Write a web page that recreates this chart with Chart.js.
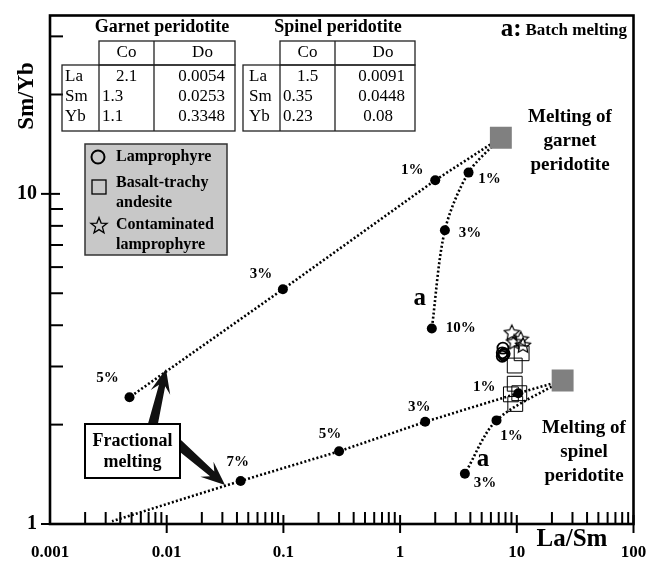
<!DOCTYPE html>
<html>
<head>
<meta charset="utf-8">
<script src="https://cdn.jsdelivr.net/npm/chart.js@4.4.0/dist/chart.umd.min.js"></script>
<style>
  html, body { margin: 0; padding: 0; background: #fff; }
</style>
</head>
<body>
<canvas id="meltChart" width="649" height="565"></canvas>
<script>
// axis ticks
const xTickValues = [0.001, 0.01, 0.1, 1, 10, 100];
const xTickLabels = ['0.001', '0.01', '0.1', '1', '10', '100'];
const yTickValues = [1, 10];
const yTickLabels = ['1', '10'];

// melting curves (first point = source)
const garnetFracX = [7.3, 2.0, 0.099, 0.0048];
const garnetFracY = [14.8, 11.0, 5.14, 2.42];
const garnetFracLabels = ['', '1%', '3%', '5%'];

const garnetBatchX = [7.3, 3.86, 2.42, 1.87];
const garnetBatchY = [14.8, 11.6, 7.76, 3.91];
const garnetBatchLabels = ['', '1%', '3%', '10%'];

const spinelFracX = [24.7, 10.3, 1.64, 0.30, 0.043, 0.0034];
const spinelFracY = [2.72, 2.49, 2.04, 1.66, 1.35, 1.02];
const spinelFracLabels = ['', '1%', '3%', '5%', '7%', ''];

const spinelBatchX = [24.7, 6.7, 3.59];
const spinelBatchY = [2.72, 2.06, 1.42];
const spinelBatchLabels = ['', '1%', '3%'];

// samples
const lamprophyreX = [7.6, 7.5, 7.7, 7.5, 7.8];
const lamprophyreY = [3.41, 3.30, 3.25, 3.22, 3.28];
const basaltX = [11.0, 9.6, 9.6, 8.9, 9.7, 10.5];
const basaltY = [3.29, 3.02, 2.66, 2.47, 2.31, 2.49];
const contamX = [9.06, 10.8, 11.3, 9.5];
const contamY = [3.81, 3.64, 3.49, 3.57];

// partition table
const tableElements = ['La', 'Sm', 'Yb'];
const garnetCo = ['2.1', '1.3', '1.1'];
const garnetDo = ['0.0054', '0.0253', '0.3348'];
const spinelCo = ['1.5', '0.35', '0.23'];
const spinelDo = ['0.0091', '0.0448', '0.08'];

const SERIF = '"Liberation Serif", "DejaVu Serif", serif';

function pts(xs, ys) {
    return xs.map(function(x, i) { return { x: x, y: ys[i] }; });
}

// open star used as point style
function makeStar(size, lw) {
    const c = document.createElement('canvas');
    c.width = size; c.height = size;
    const g = c.getContext('2d');
    drawStar(g, size / 2, size / 2 + 0.8, size / 2 - 1, size / 4.6, lw);
    return c;
}
function drawStar(g, cx, cy, ro, ri, lw) {
    g.beginPath();
    for (let i = 0; i < 10; i++) {
        const r = i % 2 === 0 ? ro : ri;
        const a = -Math.PI / 2 + i * Math.PI / 5;
        const px = cx + r * Math.cos(a), py = cy + r * Math.sin(a);
        if (i === 0) g.moveTo(px, py); else g.lineTo(px, py);
    }
    g.closePath();
    g.lineWidth = lw;
    g.strokeStyle = '#000';
    g.stroke();
}
const starImg = makeStar(18, 1.2);

function lineSet(xs, ys, labels, offsets, tension) {
    return {
        data: pts(xs, ys),
        showLine: true,
        borderColor: '#000',
        borderWidth: 2.6,
        borderDash: [2, 2.2],
        tension: tension,
        pointRadius: labels.map(function(l) { return l ? 5 : 0; }),
        pointBackgroundColor: '#000',
        pointBorderWidth: 0,
        pctLabels: labels,
        labelOffsets: offsets
    };
}

function txt(ctx, s, x, y, font, align) {
    ctx.font = font;
    ctx.textAlign = align || 'center';
    ctx.textBaseline = 'middle';
    ctx.fillStyle = '#000';
    ctx.fillText(s, x, y);
}

function drawArrow(ctx, x0, y0, x1, y1) {
    const dx = x1 - x0, dy = y1 - y0;
    const len = Math.sqrt(dx * dx + dy * dy);
    const ux = dx / len, uy = dy / len, nx = -uy, ny = ux;
    const headL = 24, headW = 10, notch = 7, shaftW0 = 5, shaftW1 = 3.2;
    const p = function(a, b) { return [x0 + ux * a + nx * b, y0 + uy * a + ny * b]; };
    const poly = [
        p(0, -shaftW0), p(len - headL + notch, -shaftW1), p(len - headL, -headW),
        p(len, 0),
        p(len - headL, headW), p(len - headL + notch, shaftW1), p(0, shaftW0)
    ];
    ctx.beginPath();
    poly.forEach(function(q, i) { if (i === 0) ctx.moveTo(q[0], q[1]); else ctx.lineTo(q[0], q[1]); });
    ctx.closePath();
    ctx.fillStyle = '#111';
    ctx.fill();
}

const decor = {
    id: 'decor',
    beforeDatasetsDraw: function(chart) {
        const ctx = chart.ctx, a = chart.chartArea;
        const xs = chart.scales.x, ys = chart.scales.y;
        ctx.save();
        ctx.strokeStyle = '#000';
        // frame
        ctx.lineWidth = 2.6;
        ctx.strokeRect(a.left, a.top, a.right - a.left, a.bottom - a.top);
        // y ticks
        ctx.lineWidth = 2;
        [1, 10].forEach(function(d) {
            for (let k = 2; k <= 9; k++) {
                const v = k * d;
                if (v > ys.max) break;
                const py = ys.getPixelForValue(v);
                ctx.beginPath(); ctx.moveTo(a.left, py); ctx.lineTo(a.left + 13, py); ctx.stroke();
            }
        });
        yTickValues.forEach(function(v, i) {
            const py = ys.getPixelForValue(v);
            ctx.beginPath(); ctx.moveTo(a.left - 9, py); ctx.lineTo(a.left + 10, py); ctx.stroke();
            txt(ctx, yTickLabels[i], a.left - 13, py, 'bold 20px ' + SERIF, 'right');
        });
        // x ticks
        [0.001, 0.01, 0.1, 1, 10].forEach(function(d) {
            for (let k = 2; k <= 9; k++) {
                const px = xs.getPixelForValue(k * d);
                ctx.beginPath(); ctx.moveTo(px, a.bottom); ctx.lineTo(px, a.bottom - 12); ctx.stroke();
            }
        });
        xTickValues.forEach(function(v, i) {
            const px = xs.getPixelForValue(v);
            if (i > 0) {
                ctx.beginPath(); ctx.moveTo(px, a.bottom - 9); ctx.lineTo(px, a.bottom + 9); ctx.stroke();
            }
            txt(ctx, xTickLabels[i], px, a.bottom + 29, 'bold 17px ' + SERIF, 'center');
        });
        ctx.restore();
    },
    afterDatasetsDraw: function(chart) {
        const ctx = chart.ctx;
        ctx.save();
        // percent labels
        chart.data.datasets.forEach(function(ds, i) {
            if (!ds.pctLabels) return;
            chart.getDatasetMeta(i).data.forEach(function(pt, j) {
                const l = ds.pctLabels[j];
                if (!l) return;
                const o = ds.labelOffsets[j];
                txt(ctx, l, pt.x + o[0], pt.y + o[1], 'bold 15px ' + SERIF, 'center');
            });
        });
        // "a" labels next to batch curves
        const gb = chart.getDatasetMeta(4).data[3];
        txt(ctx, 'a', gb.x - 12, gb.y - 30, 'bold 25px ' + SERIF, 'center');
        const sb = chart.getDatasetMeta(5).data[2];
        txt(ctx, 'a', sb.x + 18, sb.y - 14, 'bold 25px ' + SERIF, 'center');

        // axis titles
        txt(ctx, 'La/Sm', 572, 540, 'bold 25px ' + SERIF, 'center');
        ctx.save();
        ctx.translate(27, 96);
        ctx.rotate(-Math.PI / 2);
        txt(ctx, 'Sm/Yb', 0, 0, 'bold 23px ' + SERIF, 'center');
        ctx.restore();

        // annotations
        const f18 = 'bold 19px ' + SERIF;
        txt(ctx, 'Melting of', 570, 117, f18);
        txt(ctx, 'garnet', 570, 141, f18);
        txt(ctx, 'peridotite', 570, 165, f18);
        txt(ctx, 'Melting of', 584, 428, f18);
        txt(ctx, 'spinel', 584, 452, f18);
        txt(ctx, 'peridotite', 584, 476, f18);

        ctx.font = 'bold 17px ' + SERIF;
        const bw2 = ctx.measureText('Batch melting').width;
        txt(ctx, 'Batch melting', 627, 31, 'bold 17px ' + SERIF, 'right');
        txt(ctx, 'a:', 627 - bw2 - 4, 30, 'bold 25px ' + SERIF, 'right');

        // tables
        ctx.strokeStyle = '#222';
        ctx.lineWidth = 1.3;
        [[99, 62, 154, 235, garnetCo, garnetDo, 'Garnet peridotite', 162],
         [280, 243, 335, 415, spinelCo, spinelDo, 'Spinel peridotite', 338]].forEach(function(t, ti) {
            const c1 = t[0], l = t[1], c2 = t[2], r = t[3];
            ctx.strokeRect(c1, 41, r - c1, 24);
            ctx.strokeRect(l, 65, r - l, 66);
            ctx.beginPath();
            ctx.moveTo(c1, 65); ctx.lineTo(c1, 131);
            ctx.moveTo(c2, 41); ctx.lineTo(c2, 131);
            ctx.stroke();
            txt(ctx, t[6], t[7], 27, 'bold 18px ' + SERIF, 'center');
            const f = '17px ' + SERIF;
            txt(ctx, 'Co', (c1 + c2) / 2, 53, f, 'center');
            txt(ctx, 'Do', (c2 + r) / 2 + 8, 53, f, 'center');
            tableElements.forEach(function(e, k) {
                const y = 77 + k * 20;
                txt(ctx, e, l + (ti ? 6 : 3), y, f, 'left');
                if (k === 0) txt(ctx, t[4][k], (c1 + c2) / 2, y, f, 'center');
                else txt(ctx, t[4][k], c1 + 3, y, f, 'left');
                txt(ctx, t[5][k], r - (ti ? (k === 2 ? 22 : 10) : 10), y, f, 'right');
            });
        });

        // legend box
        ctx.fillStyle = '#c8c8c8';
        ctx.fillRect(85, 144, 142, 111);
        ctx.strokeStyle = '#333';
        ctx.lineWidth = 1.5;
        ctx.strokeRect(85, 144, 142, 111);
        ctx.strokeStyle = '#000';
        ctx.lineWidth = 2;
        ctx.beginPath(); ctx.arc(98, 157, 6.5, 0, Math.PI * 2); ctx.stroke();
        ctx.lineWidth = 1.3;
        ctx.strokeRect(92, 180, 14, 14);
        drawStar(ctx, 99, 226, 8.5, 3.6, 1.3);
        const fl = 'bold 16px ' + SERIF;
        txt(ctx, 'Lamprophyre', 116, 157, fl, 'left');
        txt(ctx, 'Basalt-trachy', 116, 183, fl, 'left');
        txt(ctx, 'andesite', 116, 203, fl, 'left');
        txt(ctx, 'Contaminated', 116, 225, fl, 'left');
        txt(ctx, 'lamprophyre', 116, 245, fl, 'left');

        // fractional melting box and arrows
        drawArrow(ctx, 152, 428, 166, 369);
        drawArrow(ctx, 178, 444, 225, 485);
        ctx.fillStyle = '#fff';
        ctx.fillRect(85, 424, 95, 54);
        ctx.strokeStyle = '#000';
        ctx.lineWidth = 2;
        ctx.strokeRect(85, 424, 95, 54);
        txt(ctx, 'Fractional', 132.5, 441, 'bold 18px ' + SERIF, 'center');
        txt(ctx, 'melting', 132.5, 462, 'bold 18px ' + SERIF, 'center');
        ctx.restore();
    }
};

const ctx = document.getElementById('meltChart').getContext('2d');
new Chart(ctx, {
    type: 'scatter',
    data: {
        datasets: [
            {   // garnet source
                data: pts([garnetFracX[0]], [garnetFracY[0]]),
                pointStyle: 'rect', pointRadius: 15.5,
                pointBackgroundColor: '#808080', pointBorderWidth: 0
            },
            {   // spinel source
                data: pts([spinelFracX[0]], [spinelFracY[0]]),
                pointStyle: 'rect', pointRadius: 15.5,
                pointBackgroundColor: '#808080', pointBorderWidth: 0
            },
            lineSet(garnetFracX, garnetFracY, garnetFracLabels,
                [null, [-23, -10], [-22, -15], [-22, -19]], 0),
            lineSet(spinelFracX, spinelFracY, spinelFracLabels,
                [null, [-34, -6], [-6, -15], [-9, -17], [-3, -19], null], 0),
            lineSet(garnetBatchX, garnetBatchY, garnetBatchLabels,
                [null, [21, 7], [25, 3], [29, 0]], 0.3),
            lineSet(spinelBatchX, spinelBatchY, spinelBatchLabels,
                [null, [15, 16], [20, 9]], 0.3),
            {   // lamprophyre
                data: pts(lamprophyreX, lamprophyreY),
                pointStyle: 'circle', pointRadius: 5.5,
                pointBackgroundColor: 'rgba(0,0,0,0)', pointBorderColor: '#000', pointBorderWidth: 1.8
            },
            {   // basalt-trachyandesite
                data: pts(basaltX, basaltY),
                pointStyle: 'rect', pointRadius: 10.5,
                pointBackgroundColor: 'rgba(0,0,0,0)', pointBorderColor: '#000', pointBorderWidth: 1
            },
            {   // contaminated lamprophyre
                data: pts(contamX, contamY),
                pointStyle: starImg, pointRadius: 9
            }
        ]
    },
    options: {
        responsive: false,
        animation: false,
        layout: { padding: { left: 50, right: 15, top: 11, bottom: 41 } },
        plugins: { legend: { display: false }, tooltip: { enabled: false } },
        scales: {
            x: { type: 'logarithmic', min: 0.001, max: 100, display: false },
            y: { type: 'logarithmic', min: 1, max: 34.7, display: false }
        }
    },
    plugins: [decor]
});
</script>
</body>
</html>
